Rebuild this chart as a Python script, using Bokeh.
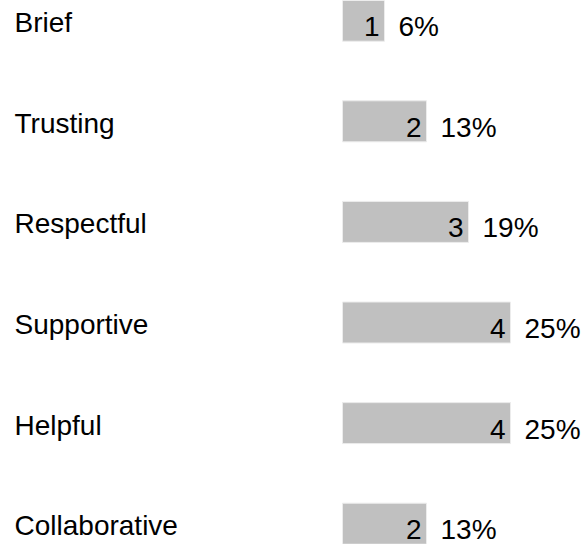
from bokeh.plotting import figure
from bokeh.models import ColumnDataSource, Range1d
from bokeh.core.properties import value
from bokeh.embed import file_html
from bokeh.resources import INLINE

categories = ["Brief", "Trusting", "Respectful", "Supportive", "Helpful", "Collaborative"]
counts = [1, 2, 3, 4, 4, 2]
percents = ["6%", "13%", "19%", "25%", "25%", "13%"]

idx = list(range(len(categories)))
src = ColumnDataSource(dict(
    y=idx,
    cat=categories,
    cnt=counts,
    cnt_lbl=[str(c) for c in counts],
    pct=percents,
))

W, H = 586, 544
px_per_unit = 42.0
row_px = 100.6
x0_px = 342
x_start = -x0_px / px_per_unit
x_end = x_start + W / px_per_unit
top_px = 20.2
y_top = -top_px / row_px
y_bot = y_top + H / row_px

p = figure(width=W, height=H, output_backend="svg", toolbar_location=None,
           x_range=Range1d(x_start, x_end), y_range=Range1d(y_bot, y_top),
           min_border=0, outline_line_color=None)
p.axis.visible = False
p.grid.visible = False
p.background_fill_color = "white"
p.border_fill_color = "white"

bar_h = 41 / row_px
p.hbar(y="y", left=0, right="cnt", height=bar_h, source=src,
       fill_color="#c0c0c0", line_color="#ececec", line_width=1)

font = value("Liberation Sans")
fs = value("28px")

p.text(x=x_start, y="y", text="cat", source=src, x_offset=14, y_offset=2,
       text_font=font, text_font_size=fs, text_align="left",
       text_baseline="middle", text_color="black")
p.text(x="cnt", y="y", text="cnt_lbl", source=src, x_offset=-5, y_offset=6,
       text_font=font, text_font_size=fs, text_align="right",
       text_baseline="middle", text_color="black")
p.text(x="cnt", y="y", text="pct", source=src, x_offset=14, y_offset=6,
       text_font=font, text_font_size=fs, text_align="left",
       text_baseline="middle", text_color="black")

open("out.html", "w").write(file_html(p, INLINE))
